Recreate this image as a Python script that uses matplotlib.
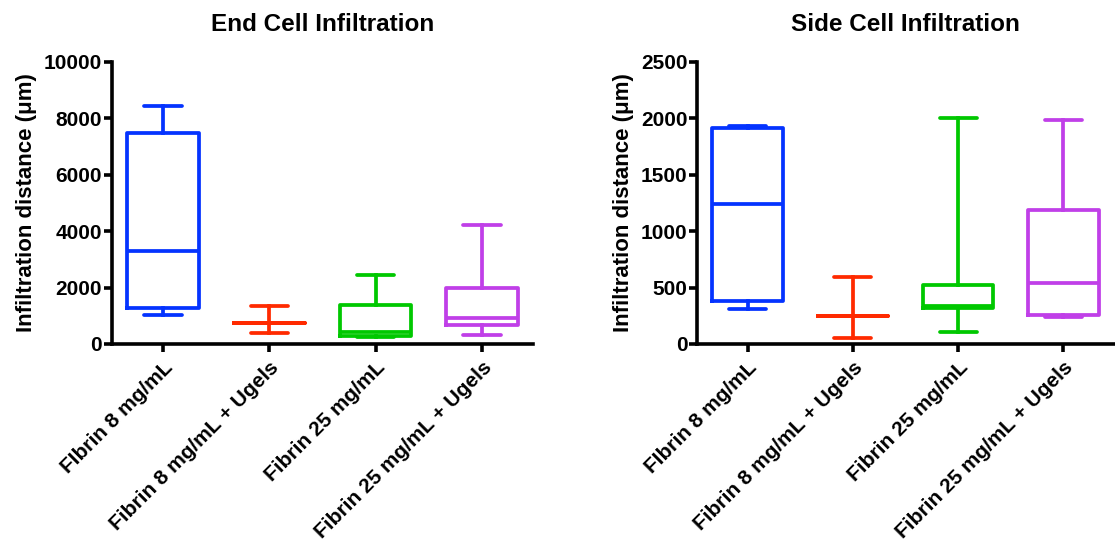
import matplotlib
matplotlib.use("Agg")
import matplotlib.pyplot as plt

plt.rcParams['font.family'] = ['Liberation Sans', 'DejaVu Sans']
plt.rcParams['font.weight'] = 'bold'

categories = ["FIbrin 8 mg/mL", "Fibrin 8 mg/mL + Ugels",
              "Fibrin 25 mg/mL", "Fibrin 25 mg/mL + Ugels"]
colors = ['#0433FF', '#FF2A00', '#00C800', '#C03FE8']

# end cell infiltration (um): min, q1, median, q3, max
end_min = [1020, 380, 250, 310]
end_q1 = [1270, 757, 300, 660]
end_med = [3300, 757, 430, 910]
end_q3 = [7490, 757, 1390, 1975]
end_max = [8450, 1350, 2460, 4225]

# side cell infiltration (um)
side_min = [312, 56, 107, 243]
side_q1 = [377, 249, 318, 258]
side_med = [1238, 249, 333, 537]
side_q3 = [1918, 249, 523, 1191]
side_max = [1936, 594, 2007, 1986]

end_ticks = [0, 2000, 4000, 6000, 8000, 10000]
side_ticks = [0, 500, 1000, 1500, 2000, 2500]


def make_stats(mn, q1, med, q3, mx):
    out = []
    for i in range(len(mn)):
        out.append({'whislo': mn[i], 'q1': q1[i], 'med': med[i],
                    'q3': q3[i], 'whishi': mx[i], 'fliers': []})
    return out


def draw_panel(ax, stats, title, ticks):
    lw = 2.7
    for i, s in enumerate(stats):
        c = colors[i]
        ax.bxp([s], positions=[i], widths=0.67, capwidths=0.35,
               showfliers=False, patch_artist=False,
               boxprops=dict(color=c, linewidth=lw, solid_joinstyle='round'),
               whiskerprops=dict(color=c, linewidth=lw),
               capprops=dict(color=c, linewidth=lw, solid_capstyle='round'),
               medianprops=dict(color=c, linewidth=lw),
               manage_ticks=False)
    ax.set_xlim(-0.48, 3.48)
    ax.set_ylim(ticks[0], ticks[-1])
    ax.set_yticks(ticks)
    ax.set_yticklabels([str(t) for t in ticks], fontsize=15, fontweight='bold')
    ax.set_xticks(range(len(categories)))
    ax.set_xticklabels(categories, rotation=45, ha='right',
                       rotation_mode='anchor', fontsize=15, fontweight='bold')
    ax.spines['top'].set_visible(False)
    ax.spines['right'].set_visible(False)
    ax.spines['left'].set_linewidth(2.6)
    ax.spines['bottom'].set_linewidth(2.6)
    ax.tick_params(axis='both', length=6, width=2.6, pad=1)
    ax.tick_params(axis='x', pad=4)
    ax.set_ylabel("Infiltration distance (μm)", fontsize=16,
                  fontweight='bold', labelpad=5)
    ax.set_title(title, fontsize=17.5, fontweight='bold', pad=22)


fig = plt.figure(figsize=(11.15, 5.46), dpi=100)
ax1 = fig.add_axes([0.1004, 0.370, 0.3776, 0.5165])
ax2 = fig.add_axes([0.6251, 0.370, 0.374, 0.5165])

draw_panel(ax1, make_stats(end_min, end_q1, end_med, end_q3, end_max),
           "End Cell Infiltration", end_ticks)
draw_panel(ax2, make_stats(side_min, side_q1, side_med, side_q3, side_max),
           "Side Cell Infiltration", side_ticks)

fig.savefig("out.png", dpi=100)
